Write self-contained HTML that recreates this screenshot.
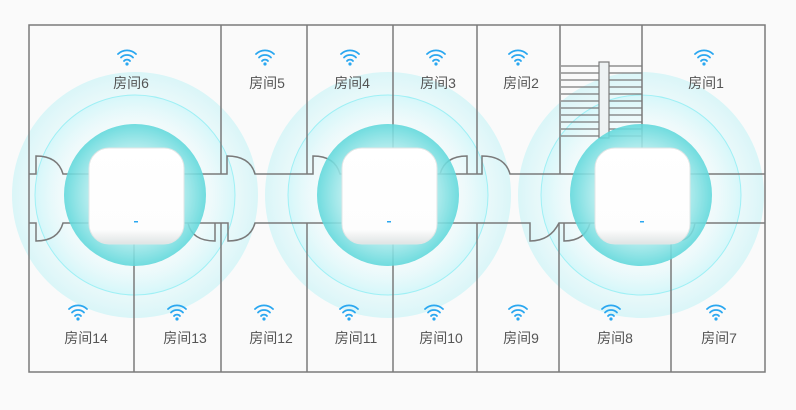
<!DOCTYPE html>
<html><head><meta charset="utf-8"><style>
html,body{margin:0;padding:0;background:#fafafa;width:796px;height:410px;overflow:hidden}
text{font-family:"Liberation Sans","Noto Sans CJK SC",sans-serif;font-size:14px;fill:#555;text-anchor:middle}
</style></head><body>
<svg width="796" height="410" xmlns="http://www.w3.org/2000/svg">
<defs>
<radialGradient id="g1"><stop offset="0.6" stop-color="#dff8fb" stop-opacity="0.2"/><stop offset="1" stop-color="#c4f3f7" stop-opacity="0.6"/></radialGradient>
<radialGradient id="g2"><stop offset="0.5" stop-color="#ffffff" stop-opacity="0"/><stop offset="1" stop-color="#c8f6fa" stop-opacity="0.6"/></radialGradient>
<radialGradient id="g3"><stop offset="0.55" stop-color="#c4f0f1"/><stop offset="1" stop-color="#5fd8db"/></radialGradient>
<linearGradient id="dev" x1="0" y1="0" x2="0" y2="1"><stop offset="0" stop-color="#fff"/><stop offset="0.85" stop-color="#fdfdfd"/><stop offset="1" stop-color="#dfe4e4"/></linearGradient>
<g id="wifi" fill="none" stroke="#2aa7f0" stroke-width="1.8" stroke-linecap="round">
<path d="M-9,-6 A13,13 0 0 1 9,-6"/><path d="M-6,-2.5 A8.5,8.5 0 0 1 6,-2.5"/><path d="M-3,1 A4,4 0 0 1 3,1"/><circle cx="0" cy="4" r="1.6" fill="#2aa7f0" stroke="none"/>
</g>
</defs>
<g>
<circle cx="135" cy="195" r="123" fill="url(#g1)"/><circle cx="135" cy="195" r="100" fill="url(#g2)" stroke="#9ff0f5" stroke-width="1"/>
<circle cx="388" cy="195" r="123" fill="url(#g1)"/><circle cx="388" cy="195" r="100" fill="url(#g2)" stroke="#9ff0f5" stroke-width="1"/>
<circle cx="641" cy="195" r="123" fill="url(#g1)"/><circle cx="641" cy="195" r="100" fill="url(#g2)" stroke="#9ff0f5" stroke-width="1"/>
</g>
<g fill="none" stroke="#7a7a7a" stroke-width="1.5">
<rect x="29" y="25" width="736" height="347"/>
<path d="M221,25V174M307,25V174M393,25V174M477,25V174M560,25V174M642,25V174"/>
<path d="M134,223V372M221,223V372M307,223V372M393,223V372M477,223V372M559,223V372M671,223V372"/>
<path d="M29,174H36V156Q58,156 63,174H221V174H227V156Q250,156 255,174H307H313V156Q335,156 340,174H477H482V156Q505,156 510,174H765"/>
<path d="M29,223H36V241Q58,241 63,223H221H228V241Q250,241 255,223H307H530V241Q550,241 559,223H765"/>
<path d="M215,223V241Q192,241 188,223"/>
<path d="M564,223V241Q585,241 590,223"/>
<path d="M695,223Q692,240 678,241"/>
<path d="M440,174Q445,156 467,156V174"/>
</g>
<g stroke="#7a7a7a" stroke-width="1.2" fill="none">
<path d="M561,66H642M561,73H642M561,80H642M561,87H642M561,94H642M561,101H642M561,108H642M561,115H642M561,122H642M561,129H642M561,136H642"/>
</g>
<rect x="599" y="62" width="10" height="76" fill="#eef2f3" stroke="#7a7a7a" stroke-width="1.2"/>
<g opacity="0.88">
<circle cx="135" cy="195" r="71" fill="url(#g3)"/>
<circle cx="388" cy="195" r="71" fill="url(#g3)"/>
<circle cx="641" cy="195" r="71" fill="url(#g3)"/>
</g>
<g fill="url(#dev)" stroke="#e0e6e6" stroke-width="1">
<rect x="89" y="148" width="95" height="96" rx="20"/>
<rect x="342" y="148" width="95" height="96" rx="20"/>
<rect x="595" y="148" width="95" height="96" rx="20"/>
</g>
<g fill="#2aa7f0"><rect x="134" y="221" width="4" height="1.5"/><rect x="387" y="221" width="4" height="1.5"/><rect x="640" y="221" width="4" height="1.5"/></g>
<use href="#wifi" x="127" y="60"/><use href="#wifi" x="265" y="60"/><use href="#wifi" x="350" y="60"/><use href="#wifi" x="436" y="60"/><use href="#wifi" x="518" y="60"/><use href="#wifi" x="704" y="60"/>
<use href="#wifi" x="78" y="315"/><use href="#wifi" x="177" y="315"/><use href="#wifi" x="264" y="315"/><use href="#wifi" x="349" y="315"/><use href="#wifi" x="434" y="315"/><use href="#wifi" x="518" y="315"/><use href="#wifi" x="611" y="315"/><use href="#wifi" x="716" y="315"/>
<text x="131" y="88">房间6</text><text x="267" y="88">房间5</text><text x="352" y="88">房间4</text><text x="438" y="88">房间3</text><text x="521" y="88">房间2</text><text x="706" y="88">房间1</text>
<text x="86" y="343">房间14</text><text x="185" y="343">房间13</text><text x="271" y="343">房间12</text><text x="356" y="343">房间11</text><text x="441" y="343">房间10</text><text x="521" y="343">房间9</text><text x="615" y="343">房间8</text><text x="719" y="343">房间7</text>
</svg>
</body></html>
